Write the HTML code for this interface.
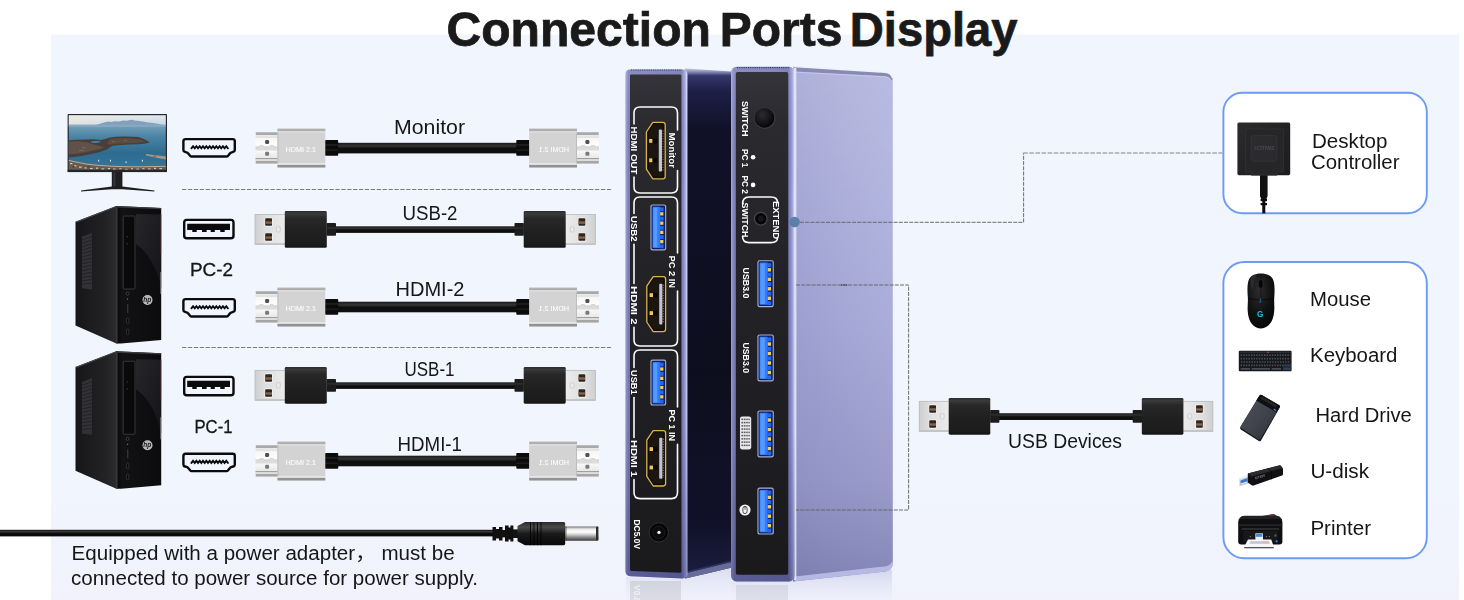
<!DOCTYPE html>
<html lang="en">
<head>
<meta charset="utf-8">
<title>Connection Ports Display</title>
<style>
  html, body { margin: 0; padding: 0; background: #ffffff; }
  body { width: 1464px; height: 600px; overflow: hidden; position: relative; }
  svg { position: absolute; left: 0; top: 0; display: block; }
  text { font-family: "Liberation Sans", "Noto Sans CJK SC", sans-serif; }
  .lbl { font-size: 19.6px; fill: #161616; }
  .tiny { font-size: 7.4px; fill: #ffffff; font-weight: normal; stroke:#fff; stroke-width:0.12px; }
  .port { fill: #ffffff; font-weight: bold; }
</style>
</head>
<body>
<svg width="1464" height="600" viewBox="0 0 1464 600">
<defs>
  <!-- gradients -->
  <linearGradient id="gPanel" x1="0" y1="0" x2="0" y2="1">
    <stop offset="0" stop-color="#f1f5fd"/>
    <stop offset="0.8" stop-color="#f1f5fd"/>
    <stop offset="1" stop-color="#f1f2fc"/>
  </linearGradient>
  <linearGradient id="gSilverV" x1="0" y1="0" x2="0" y2="1">
    <stop offset="0" stop-color="#e9e9e9"/>
    <stop offset="0.08" stop-color="#c9c9c9"/>
    <stop offset="0.2" stop-color="#d6d6d6"/>
    <stop offset="0.8" stop-color="#cfcfcf"/>
    <stop offset="0.93" stop-color="#b9b9b9"/>
    <stop offset="1" stop-color="#e2e2e2"/>
  </linearGradient>
  <linearGradient id="gTipV" x1="0" y1="0" x2="0" y2="1">
    <stop offset="0" stop-color="#bdbdbd"/>
    <stop offset="0.12" stop-color="#f4f4f4"/>
    <stop offset="0.5" stop-color="#ffffff"/>
    <stop offset="0.85" stop-color="#e6e6e6"/>
    <stop offset="1" stop-color="#b5b5b5"/>
  </linearGradient>
  <linearGradient id="gBlackV" x1="0" y1="0" x2="0" y2="1">
    <stop offset="0" stop-color="#2a2a2a"/>
    <stop offset="0.07" stop-color="#3a3a3a"/>
    <stop offset="0.2" stop-color="#282828"/>
    <stop offset="0.55" stop-color="#202020"/>
    <stop offset="0.9" stop-color="#1c1c1c"/>
    <stop offset="1" stop-color="#141414"/>
  </linearGradient>
  <linearGradient id="gUsbMetal" x1="0" y1="0" x2="1" y2="0">
    <stop offset="0" stop-color="#cfcfcf"/>
    <stop offset="0.3" stop-color="#dddddd"/>
    <stop offset="1" stop-color="#ececec"/>
  </linearGradient>
  <linearGradient id="gCable" x1="0" y1="0" x2="0" y2="1">
    <stop offset="0" stop-color="#1a1a1a"/>
    <stop offset="0.3" stop-color="#343434"/>
    <stop offset="0.55" stop-color="#0d0d0d"/>
    <stop offset="1" stop-color="#111111"/>
  </linearGradient>

  <!-- HDMI plug pointing left; origin = tip left edge, vertical centre -->
  <g id="hdmiPlug">
    <rect x="69.5" y="-8" width="13.2" height="15.8" rx="0.8" fill="#0b0b0b"/>
    <rect x="69.5" y="-3.6" width="13.2" height="1.1" fill="#2a2a2a"/>
    <rect x="69.5" y="1.6" width="13.2" height="1.1" fill="#242424"/>
    <!-- tip -->
    <rect x="0" y="-15.6" width="23" height="31" fill="url(#gTipV)"/>
    <rect x="0.6" y="-15.6" width="22.4" height="3" fill="#a9a9a9"/>
    <rect x="0.6" y="-12.6" width="22.4" height="1.1" fill="#fbfbfb"/>
    <rect x="0" y="-11.4" width="23" height="0.8" fill="#c9c9c9"/>
    <rect x="0" y="10.2" width="23" height="1" fill="#8e8e8e"/>
    <rect x="0.6" y="11.2" width="22.4" height="1.8" fill="#dedede"/>
    <rect x="0.6" y="13" width="22.4" height="2.4" fill="#a6a6a6"/>
    <path d="M0 -1.2 H3.4 L4.4 -2.4 H7.6 L8.6 -1.2 H13.6 L14.6 -2.4 H17.6 L18.6 -1.2 H23 V2.6 H0 Z" fill="#dcdcdc"/>
    <path d="M0 -1.2 H3.4 L4.4 -2.4 H7.6 L8.6 -1.2 H13.6 L14.6 -2.4 H17.6 L18.6 -1.2 H23" fill="none" stroke="#bdbdbd" stroke-width="0.5"/>
    <rect x="9.6" y="-8" width="4" height="4" rx="1.3" fill="#4f4f4f"/>
    <rect x="9.6" y="3.7" width="4" height="4" rx="1.3" fill="#7a7a7a"/>
    <!-- body -->
    <rect x="22" y="-19.8" width="47.8" height="39.6" rx="0.8" fill="#d3d3d3"/>
    <rect x="22" y="-19.8" width="47.8" height="0.9" fill="#dadada"/>
    <rect x="22" y="-18.9" width="47.8" height="2.3" fill="#adadad"/>
    <rect x="22" y="-16.6" width="47.8" height="1" fill="#e9e9e9"/>
    <rect x="22" y="15.4" width="47.8" height="1.4" fill="#f4f4f4"/>
    <rect x="22" y="16.8" width="47.8" height="2.6" fill="#929292"/>
    <rect x="22" y="-15.6" width="0.9" height="31" fill="#bcbcbc"/>
  </g>

  <!-- USB plug pointing left; origin = metal left edge, vertical centre -->
  <g id="usbPlug">
    <rect x="71.6" y="-6.6" width="9.4" height="12.8" rx="0.8" fill="#1c1c1c"/>
    <rect x="71.6" y="-2.2" width="9.4" height="1.2" fill="#333333"/>
    <rect x="0" y="-15.2" width="31" height="30.2" fill="url(#gUsbMetal)"/>
    <rect x="0" y="-15.2" width="31" height="30.2" fill="none" stroke="#b4b4b4" stroke-width="0.7"/>
    <rect x="0.4" y="13.6" width="30" height="1.2" fill="#c2c2c2"/>
    <rect x="9.6" y="-11.9" width="8" height="8.8" rx="1" fill="#f6f6f6"/>
    <rect x="9.6" y="3.1" width="8" height="8.8" rx="1" fill="#f6f6f6"/>
    <rect x="10.2" y="-11.3" width="6.8" height="7.5" rx="0.8" fill="#2b2623"/>
    <rect x="10.2" y="3.7" width="6.8" height="7.5" rx="0.8" fill="#2b2623"/>
    <rect x="10.6" y="-8.2" width="6.4" height="2.4" fill="#8a6444"/>
    <rect x="10.6" y="6.8" width="6.4" height="2.4" fill="#8a6444"/>
    <rect x="21.4" y="-2.8" width="3.8" height="5.2" rx="1" fill="#ececec" stroke="#bcbcbc" stroke-width="0.6"/>
    <rect x="29.8" y="-18.6" width="42" height="36.8" rx="1.4" fill="url(#gBlackV)"/>
  </g>

  <!-- HDMI port outline icon; origin = left, centre -->
  <g id="hdmiIcon" fill="none" stroke="#0b0b0b" stroke-linejoin="round" stroke-linecap="round">
    <path d="M3.6 -8.9 H50.6 Q52.8 -8.9 52.8 -6.7 V1.9 Q52.8 3.5 51.2 3.9 L49.8 4.3 Q48.7 4.6 48 5.4 L45.9 7.9 Q45.4 8.5 44.6 8.5 H9.6 Q8.8 8.5 8.3 7.9 L6.2 5.4 Q5.5 4.6 4.4 4.3 L3 3.9 Q1.4 3.5 1.4 1.9 V-6.7 Q1.4 -8.9 3.6 -8.9 Z" stroke-width="2.4"/>
    <path d="M9.4 0.3 l1.66 -2.1 l1.66 2.1 l1.66 -2.1 l1.66 2.1 l1.66 -2.1 l1.66 2.1 l1.66 -2.1 l1.66 2.1 l1.66 -2.1 l1.66 2.1 l1.66 -2.1 l1.66 2.1 l1.66 -2.1 l1.66 2.1 l1.66 -2.1 l1.66 2.1 l1.66 -2.1 l1.66 2.1 l1.66 -2.1 l1.66 2.1 l1.66 -2.1 l1.66 2.1" stroke-width="1.9" stroke-linejoin="miter"/>
  </g>

  <!-- USB-A port icon; origin = left, centre -->
  <g id="usbIcon">
    <rect x="2.2" y="-9.1" width="49.3" height="18.4" rx="2.6" fill="none" stroke="#0b0b0b" stroke-width="2.4"/>
    <path d="M5.2 -5.3 H48 V0.9 H42.7 V3.1 H38.3 V0.9 H32.8 V3.1 H28.7 V0.9 H24.6 V3.1 H20 V0.9 H14.7 V3.1 H10.3 V0.9 H5.2 Z" fill="#0b0b0b"/>
  </g>
</defs>

<!-- ============ background ============ -->
<rect x="0" y="0" width="1464" height="600" fill="#ffffff"/>
<rect x="51" y="34.5" width="1408" height="566" fill="url(#gPanel)"/>

<!-- ============ title ============ -->
<g font-size="48.2" font-weight="bold" fill="#1a1a1a" stroke="#1a1a1a" stroke-width="0.75">
  <text x="446.4" y="45.5" textLength="264.6" lengthAdjust="spacingAndGlyphs">Connection</text>
  <text x="719.8" y="45.5" textLength="122.6" lengthAdjust="spacingAndGlyphs">Ports</text>
  <text x="849.8" y="45.5" textLength="167.8" lengthAdjust="spacingAndGlyphs">Display</text>
</g>

<!-- ============ separators ============ -->
<g stroke="#7a7a7a" stroke-width="1" stroke-dasharray="4.3 1.6" fill="none">
  <path d="M182 189.5 H612"/>
  <path d="M182 347.5 H612"/>
</g>

<!-- ============ cable rows ============ -->
<!-- row 1 : monitor HDMI -->
<g id="row1">
  <rect x="336" y="142.8" width="182" height="10.6" fill="url(#gCable)"/>
  <use href="#hdmiPlug" transform="translate(255.5 148)"/>
  <use href="#hdmiPlug" transform="translate(599 148) scale(-1 1)"/>
  <use href="#hdmiIcon" transform="translate(182 148)"/>
</g>
<!-- row 2 : USB-2 -->
<g id="row2">
  <rect x="334" y="226.3" width="182" height="6.6" fill="url(#gCable)"/>
  <use href="#usbPlug" transform="translate(255 229.6)"/>
  <use href="#usbPlug" transform="translate(595.5 229.6) scale(-1 1)"/>
  <use href="#usbIcon" transform="translate(182 229)"/>
</g>
<!-- row 3 : HDMI-2 -->
<g id="row3">
  <rect x="336" y="301.7" width="182" height="10.6" fill="url(#gCable)"/>
  <use href="#hdmiPlug" transform="translate(255.5 307)"/>
  <use href="#hdmiPlug" transform="translate(599 307) scale(-1 1)"/>
  <use href="#hdmiIcon" transform="translate(182 308)"/>
</g>
<!-- row 4 : USB-1 -->
<g id="row4">
  <rect x="334" y="382.3" width="182" height="6.6" fill="url(#gCable)"/>
  <use href="#usbPlug" transform="translate(255 385.5)"/>
  <use href="#usbPlug" transform="translate(595.5 385.5) scale(-1 1)"/>
  <use href="#usbIcon" transform="translate(182 386)"/>
</g>
<!-- row 5 : HDMI-1 -->
<g id="row5">
  <rect x="336" y="455.7" width="182" height="10.6" fill="url(#gCable)"/>
  <use href="#hdmiPlug" transform="translate(255.5 461)"/>
  <use href="#hdmiPlug" transform="translate(599 461) scale(-1 1)"/>
  <use href="#hdmiIcon" transform="translate(182 462.6)"/>
</g>

<!-- plug engraving text -->
<g class="tiny" opacity="0.92">
  <text x="285.5" y="151.7" textLength="30.4" lengthAdjust="spacingAndGlyphs">HDMI 2.1</text>
  <text x="285.5" y="310.7" textLength="30.4" lengthAdjust="spacingAndGlyphs">HDMI 2.1</text>
  <text x="285.5" y="464.7" textLength="30.4" lengthAdjust="spacingAndGlyphs">HDMI 2.1</text>
  <text transform="translate(569 151.7) scale(-1 1)" textLength="30.4" lengthAdjust="spacingAndGlyphs">HDMI 2.1</text>
  <text transform="translate(569 310.7) scale(-1 1)" textLength="30.4" lengthAdjust="spacingAndGlyphs">HDMI 2.1</text>
  <text transform="translate(569 464.7) scale(-1 1)" textLength="30.4" lengthAdjust="spacingAndGlyphs">HDMI 2.1</text>
</g>

<!-- row labels -->
<g class="lbl">
  <text x="394" y="134.4" textLength="71" lengthAdjust="spacingAndGlyphs">Monitor</text>
  <text x="402.5" y="219.6" textLength="55" lengthAdjust="spacingAndGlyphs">USB-2</text>
  <text x="395.5" y="295.8" textLength="69" lengthAdjust="spacingAndGlyphs">HDMI-2</text>
  <text x="404.5" y="375.8" textLength="50" lengthAdjust="spacingAndGlyphs">USB-1</text>
  <text x="397.5" y="451.2" textLength="64.5" lengthAdjust="spacingAndGlyphs">HDMI-1</text>
</g>


<!-- ============ monitor ============ -->
<defs>
  <linearGradient id="gSky" x1="0" y1="0" x2="0" y2="1">
    <stop offset="0" stop-color="#e4ebee"/>
    <stop offset="1" stop-color="#c3d6e4"/>
  </linearGradient>
  <linearGradient id="gSea" x1="0" y1="0" x2="0" y2="1">
    <stop offset="0" stop-color="#7aa1ba"/>
    <stop offset="0.25" stop-color="#4a84a7"/>
    <stop offset="0.6" stop-color="#2d6c90"/>
    <stop offset="1" stop-color="#37789b"/>
  </linearGradient>
  <linearGradient id="gSkyWarm" x1="0" y1="0" x2="1" y2="0">
    <stop offset="0" stop-color="#f0e9df" stop-opacity="0.7"/>
    <stop offset="0.6" stop-color="#f0e9df" stop-opacity="0.15"/>
    <stop offset="1" stop-color="#c9d8e6" stop-opacity="0.3"/>
  </linearGradient>
  <clipPath id="cpScreen"><rect x="68.8" y="115.2" width="97" height="54.6"/></clipPath>
</defs>
<g id="monitor">
  <rect x="111.8" y="170" width="10.6" height="18" fill="#1f1f22"/>
  <rect x="113.4" y="170" width="2" height="18" fill="#34343a"/>
  <path d="M81 190.4 L111.8 186.6 H122.4 L154.4 190.4 L154.4 191.6 L122.4 189.2 H111.8 L81 191.6 Z" fill="#1d1d20"/>
  <rect x="67.6" y="114.1" width="99.4" height="58" rx="0.8" fill="#26262a"/>
  <g clip-path="url(#cpScreen)">
    <rect x="68" y="115" width="99" height="11" fill="url(#gSky)"/>
    <rect x="68" y="115" width="99" height="10" fill="url(#gSkyWarm)"/>
    <rect x="68" y="124.8" width="99" height="47" fill="url(#gSea)"/>
    <!-- distant island on horizon -->
    <path d="M96 125 L100 123.8 L104 122.6 L108 121.6 L111 121.9 L115 121.2 L119 121.4 L123 120.6 L127 120.8 L130 120 L132 119.7 L135 120.6 L139 121 L143 121.6 L148 122.4 L153 123 L158 123.8 L162.8 125 Z" fill="#829fbc"/>
    <path d="M68 124.6 H167 V127 H68 Z" fill="#8fb0c8" opacity="0.55"/>
    <!-- main headland + peninsula -->
    <path d="M68 140.2 L76 139.8 L86.6 139.5 L93 139.2 L101 139.9 L105 139 L109 137.8 L115.6 136.8 L124 136.6 L132 136.7 L138.4 137 L144 139 L149.8 142.2 L146 143.4 L139 144.2 L130 144.6 L121 145 L113 145.8 L109.4 147.6 L107.4 149.2 L103 151 L97 152.8 L89 154.6 L81.5 156 L74 157 L68 157.6 Z" fill="#493f3a"/>
    <path d="M68 141.6 L78 141.2 L88 142.4 L92 144 L98 145.4 L104 147 L100 149 L92 150.8 L84 152.4 L76 153.8 L68 154.6 Z" fill="#66584d" opacity="0.8"/>
    <path d="M110 139.2 L118 138.2 L130 138.2 L140 139.6 L145.6 141.8 L138 142.8 L126 143.2 L116 143.8 L110.6 144.8 L107 143.4 Z" fill="#5d5047" opacity="0.85"/>
    <path d="M91.3 141.4 L96 141 L101.2 141.4 L99 142.6 L94 143 L91 142.4 Z" fill="#4c86aa"/>
    <g fill="#8a7a6c" opacity="0.7"><rect x="79" y="150.2" width="5" height="0.9"/><rect x="82" y="147.4" width="3.6" height="0.8"/><rect x="112" y="141" width="3" height="0.8"/><rect x="124" y="140.2" width="2.6" height="0.8"/></g>
    <!-- right pier -->
    <path d="M145.6 154 L152 154.8 L160 155.8 L167 156.6 V159.6 L160 158.4 L152 156.8 L146 155.4 Z" fill="#a79785"/>
    <rect x="153.4" y="155.6" width="2.6" height="1" fill="#9a4a3c"/>
    <!-- foreground town -->
    <path d="M68 159.8 L76 161.6 L86 163.4 L97 164.7 L112 165.8 L128 166.3 L144 166.2 L158 166 L167 165.8 V172 H68 Z" fill="#6b5c50"/>
    <path d="M68 159.8 L76 161.6 L86 163.4 L97 164.7 L112 165.8 L128 166.3 L144 166.2 L158 166 L167 165.8 V166.8 L158 167 L144 167.2 L128 167.3 L112 166.8 L97 165.7 L86 164.4 L76 162.6 L68 160.8 Z" fill="#cdbba4" opacity="0.85"/>
    <g fill="#e6ded2" opacity="0.85">
      <rect x="70" y="163" width="2.4" height="1.2"/><rect x="74.4" y="165.2" width="2" height="1.2"/><rect x="79" y="166.6" width="2.6" height="1.2"/><rect x="84.6" y="167.4" width="2" height="1.1"/>
      <rect x="90" y="168" width="2.6" height="1.2"/><rect x="96" y="167.6" width="2" height="1.2"/><rect x="101.4" y="168.4" width="2.8" height="1.2"/><rect x="108" y="168" width="2" height="1.2"/>
      <rect x="113" y="168.6" width="2.6" height="1.2"/><rect x="119.4" y="168.2" width="2" height="1.2"/><rect x="125" y="168.8" width="2.6" height="1.1"/><rect x="131" y="168.2" width="2" height="1.2"/>
      <rect x="136.4" y="168.6" width="2.6" height="1.2"/><rect x="142.4" y="168.2" width="2" height="1.2"/><rect x="148" y="168.4" width="2.6" height="1.2"/><rect x="154" y="167.8" width="2" height="1.2"/><rect x="159.4" y="168" width="2.6" height="1.2"/>
    </g>
    <g fill="#3a322c" opacity="0.8">
      <rect x="72.6" y="166" width="1.6" height="1.4"/><rect x="87.4" y="166.2" width="2" height="1.2"/><rect x="99" y="169.4" width="2" height="1.2"/><rect x="111" y="169.6" width="1.8" height="1.2"/><rect x="122.4" y="169.6" width="2" height="1.2"/><rect x="134" y="169.8" width="1.8" height="1"/><rect x="146" y="169.6" width="2" height="1.2"/><rect x="157" y="169.4" width="1.8" height="1.2"/>
    </g>
    <g fill="#eef2f5"><rect x="98.2" y="159.8" width="1" height="1.7"/><rect x="110" y="159.8" width="1" height="1.7"/><rect x="125.6" y="161.4" width="1" height="1.7"/><rect x="141.9" y="159.8" width="1" height="1.7"/></g>
  </g>
  <rect x="67.6" y="169.8" width="99.4" height="2.3" fill="#26262a"/>
</g>

<!-- ============ PC tower (shared shape) ============ -->
<defs>
  <linearGradient id="gPcSide" x1="0" y1="0" x2="1" y2="0">
    <stop offset="0" stop-color="#161618"/>
    <stop offset="0.7" stop-color="#222225"/>
    <stop offset="1" stop-color="#2b2b2e"/>
  </linearGradient>
  <linearGradient id="gPcFront" x1="0" y1="0" x2="1" y2="0">
    <stop offset="0" stop-color="#050506"/>
    <stop offset="0.12" stop-color="#121214"/>
    <stop offset="1" stop-color="#0c0c0e"/>
  </linearGradient>
  <linearGradient id="gPcGloss" x1="0" y1="0" x2="1" y2="1">
    <stop offset="0" stop-color="#2a2a2f"/>
    <stop offset="1" stop-color="#15151a"/>
  </linearGradient>
  <g id="pcTower">
    <!-- side -->
    <path d="M75.5 221.8 L116.4 206 V343.6 L75.5 325.4 Z" fill="url(#gPcSide)"/>
    <path d="M75.5 221.8 L116.4 206 L118 206.2 L77 222.6 Z" fill="#47474c"/>
    <!-- vent -->
    <path d="M82 236.8 L92 232.8 V289.4 L82 288.2 Z" fill="#323236"/>
    <g stroke="#1a1a1c" stroke-width="0.6">
      <path d="M82 240 L92 236.4 M82 243.4 L92 240 M82 246.8 L92 243.6 M82 250.2 L92 247.2 M82 253.6 L92 250.8 M82 257 L92 254.4 M82 260.4 L92 258 M82 263.8 L92 261.6 M82 267.2 L92 265.2 M82 270.6 L92 268.8 M82 274 L92 272.4 M82 277.4 L92 276 M82 280.8 L92 279.6 M82 284.2 L92 283.2"/>
    </g>
    <!-- front -->
    <path d="M116.4 206 L161.2 208 V340 L121 343.6 H116.4 Z" fill="url(#gPcFront)"/>
    <path d="M136 214 L161.2 214.6 V288 C157 268 148 252 136 244 Z" fill="url(#gPcGloss)" opacity="0.85"/>
    <path d="M116.4 206 L161.2 208 V209.2 L116.4 207.4 Z" fill="#3b3b40"/>
    <rect x="116.4" y="206" width="1.3" height="137.6" fill="#303034"/>
    <!-- optical drive -->
    <rect x="123.2" y="216" width="11.8" height="73" rx="0.8" fill="#0a0a0b" stroke="#3c3c40" stroke-width="0.9"/>
    <rect x="126.8" y="236" width="0.8" height="1.4" fill="#4a4a4e"/>
    <rect x="126.8" y="243" width="0.8" height="1.4" fill="#4a4a4e"/>
    <!-- small ports -->
    <circle cx="127.6" cy="293.6" r="1.5" fill="#050505" stroke="#55555a" stroke-width="0.7"/>
    <rect x="126.9" y="298.4" width="1.2" height="1.4" fill="#6a6a6e"/>
    <rect x="127" y="304" width="1.4" height="9" fill="#343438"/>
    <rect x="126.6" y="318" width="2.2" height="5.4" rx="0.6" fill="#050505" stroke="#4a4a50" stroke-width="0.6"/>
    <rect x="126.6" y="329" width="2.2" height="5.4" rx="0.6" fill="#050505" stroke="#4a4a50" stroke-width="0.6"/>
    <!-- right edge reflection -->
    <rect x="160.4" y="272" width="0.9" height="22" fill="#b9b9c2" opacity="0.75"/>
    <rect x="160.4" y="214" width="0.9" height="40" fill="#6b3a36" opacity="0.55"/>
    <!-- hp badge -->
    <circle cx="147.5" cy="300" r="5" fill="#c2c2c6"/>
    <circle cx="147.5" cy="300" r="4.2" fill="#b4b4b8"/>
  </g>
</defs>
<use href="#pcTower"/>
<use href="#pcTower" transform="translate(0 145.25)"/>
<g font-size="6.6" font-weight="bold" font-style="italic" fill="#1b1b1e" text-anchor="middle">
  <text x="147.3" y="302.1">hp</text>
  <text x="147.3" y="447.35">hp</text>
</g>
<g class="lbl" style="font-size:18.9px" stroke="#161616" stroke-width="0.3">
  <text x="190" y="275.7" textLength="43" lengthAdjust="spacingAndGlyphs">PC-2</text>
  <text x="194.5" y="432.6" textLength="38" lengthAdjust="spacingAndGlyphs">PC-1</text>
</g>



<!-- ============ power cable ============ -->
<defs>
  <linearGradient id="gPwrCable" x1="0" y1="0" x2="0" y2="1">
    <stop offset="0" stop-color="#111111"/>
    <stop offset="0.3" stop-color="#3c3c3c"/>
    <stop offset="0.55" stop-color="#0b0b0b"/>
    <stop offset="1" stop-color="#0a0a0a"/>
  </linearGradient>
  <linearGradient id="gBarrel" x1="0" y1="0" x2="0" y2="1">
    <stop offset="0" stop-color="#2a2a2a"/>
    <stop offset="0.22" stop-color="#4a4a4a"/>
    <stop offset="0.5" stop-color="#1a1a1a"/>
    <stop offset="1" stop-color="#080808"/>
  </linearGradient>
  <linearGradient id="gPin" x1="0" y1="0" x2="0" y2="1">
    <stop offset="0" stop-color="#6f6f6f"/>
    <stop offset="0.18" stop-color="#e9e9e9"/>
    <stop offset="0.4" stop-color="#ffffff"/>
    <stop offset="0.62" stop-color="#bdbdbd"/>
    <stop offset="0.85" stop-color="#6a6a6a"/>
    <stop offset="1" stop-color="#3a3a3a"/>
  </linearGradient>
</defs>
<g id="power">
  <rect x="0" y="529.8" width="494" height="6.6" fill="url(#gPwrCable)"/>
  <!-- strain relief -->
  <path d="M492.5 527 H496 V529 H499 V527 H502.5 V540.6 H499 V538.6 H496 V540.6 H492.5 Z" fill="#101010"/>
  <rect x="502" y="530" width="4" height="7.4" fill="#121212"/>
  <path d="M505 525.6 H508.6 V527.6 H510.4 V525.6 H513.4 V541.6 H510.4 V539.6 H508.6 V541.6 H505 Z" fill="#101010"/>
  <rect x="513" y="529.4" width="5" height="8.6" fill="#131313"/>
  <!-- body -->
  <path d="M517.5 526 L525 522 H563.6 Q565.2 522 565.2 523.6 V543.6 Q565.2 545.3 563.6 545.3 H525 L517.5 541.2 Z" fill="url(#gBarrel)"/>
  <g stroke="#000000" stroke-width="0.9" opacity="0.9"><path d="M530.5 522 V545.3 M534 522 V545.3 M537.5 522 V545.3 M541 522 V545.3"/></g>
  <g stroke="#555555" stroke-width="0.5" opacity="0.8"><path d="M531.6 522.6 V531 M535.1 522.6 V531 M538.6 522.6 V531"/></g>
  <!-- pin -->
  <rect x="565" y="526.4" width="33.4" height="14.4" rx="1.2" fill="url(#gPin)"/>
  <rect x="596" y="526.6" width="2.4" height="14" rx="1" fill="#2e2e2e"/>
  <rect x="565" y="526.4" width="1.6" height="14.4" fill="#3a3a3a" opacity="0.55"/>
</g>
<g class="lbl" font-size="19.4">
  <text x="71.6" y="559.8" textLength="383" lengthAdjust="spacingAndGlyphs">Equipped with a power adapter， must be</text>
  <text x="71" y="584.8" textLength="407" lengthAdjust="spacingAndGlyphs">connected to power source for power supply.</text>
</g>



<!-- ============ KVM device ============ -->
<defs>
  <linearGradient id="gFrame" x1="0" y1="0" x2="1" y2="0">
    <stop offset="0" stop-color="#a3a7d8"/>
    <stop offset="0.05" stop-color="#7c80ba"/>
    <stop offset="0.9" stop-color="#7276b0"/>
    <stop offset="0.96" stop-color="#9da1dc"/>
    <stop offset="1" stop-color="#e8eaff"/>
  </linearGradient>
  <linearGradient id="gFrameV" x1="0" y1="0" x2="0" y2="1">
    <stop offset="0" stop-color="#ffffff" stop-opacity="0.12"/>
    <stop offset="0.25" stop-color="#30316a" stop-opacity="0"/>
    <stop offset="0.7" stop-color="#30316a" stop-opacity="0.12"/>
    <stop offset="1" stop-color="#2a2b60" stop-opacity="0.42"/>
  </linearGradient>
  <linearGradient id="gNavy" x1="0" y1="0" x2="0" y2="1">
    <stop offset="0" stop-color="#c3c6de"/>
    <stop offset="0.006" stop-color="#8d90b8"/>
    <stop offset="0.014" stop-color="#34376c"/>
    <stop offset="0.045" stop-color="#1d1f46"/>
    <stop offset="0.12" stop-color="#101127"/>
    <stop offset="0.6" stop-color="#0d0e1d"/>
    <stop offset="0.9" stop-color="#11122a"/>
    <stop offset="1" stop-color="#1c1e40"/>
  </linearGradient>
  <linearGradient id="gSideH" x1="0" y1="0" x2="1" y2="0">
    <stop offset="0" stop-color="#a0a3d2"/>
    <stop offset="0.5" stop-color="#a8abd8"/>
    <stop offset="1" stop-color="#aeb1dc"/>
  </linearGradient>
  <linearGradient id="gSideV" x1="0" y1="0" x2="0" y2="1">
    <stop offset="0" stop-color="#ffffff" stop-opacity="0.14"/>
    <stop offset="0.25" stop-color="#ffffff" stop-opacity="0.05"/>
    <stop offset="0.5" stop-color="#4a4d84" stop-opacity="0.04"/>
    <stop offset="0.8" stop-color="#4a4d84" stop-opacity="0.2"/>
    <stop offset="1" stop-color="#40437a" stop-opacity="0.38"/>
  </linearGradient>
  <linearGradient id="gRefl" x1="0" y1="0" x2="0" y2="1">
    <stop offset="0" stop-color="#9a9ed0" stop-opacity="0.34"/>
    <stop offset="1" stop-color="#c9ccee" stop-opacity="0.04"/>
  </linearGradient>
  <linearGradient id="gFace" x1="0" y1="0" x2="0" y2="1">
    <stop offset="0" stop-color="#34343a"/>
    <stop offset="0.1" stop-color="#2a2a2f"/>
    <stop offset="0.4" stop-color="#232327"/>
    <stop offset="1" stop-color="#1a1a1d"/>
  </linearGradient>
  <radialGradient id="gBtn" cx="0.4" cy="0.35" r="0.7">
    <stop offset="0" stop-color="#2c2c30"/>
    <stop offset="0.7" stop-color="#101012"/>
    <stop offset="1" stop-color="#000000"/>
  </radialGradient>
</defs>
<g id="kvm">
  <!-- floor reflections -->
  <path d="M626 577 L687 579 L731 568 V600 H626 Z" fill="url(#gRefl)" opacity="0.75"/>
  <path d="M731 581 H794.5 L892 570 V600 H731 Z" fill="url(#gRefl)"/>
  <rect x="630" y="581" width="51" height="19" fill="#1a1a22" opacity="0.10"/>
  <rect x="736" y="585" width="52" height="15" fill="#1a1a22" opacity="0.08"/>

  <!-- rear unit : navy side -->
  <path d="M685 68.6 L732 71.4 V567.6 L685 578.6 Z" fill="url(#gNavy)"/>
  <path d="M686 573 L732 561.8 V567.6 L686 578.6 Z" fill="#6e72a0" opacity="0.92"/>
  <path d="M686 571.4 L732 560.2 V562 L686 573.2 Z" fill="#34376a" opacity="0.8"/>
  <!-- rear unit : frame + face -->
  <path d="M630.6 69.4 H682.4 Q687.4 69.4 687.4 74.4 V573.8 Q687.4 578.6 682.4 578.4 L630.4 576.2 Q625.4 576 625.4 571 V74.4 Q625.4 69.4 630.6 69.4 Z" fill="url(#gFrame)"/>
  <path d="M630.6 69.4 H682.4 Q687.4 69.4 687.4 74.4 V573.8 Q687.4 578.6 682.4 578.4 L630.4 576.2 Q625.4 576 625.4 571 V74.4 Q625.4 69.4 630.6 69.4 Z" fill="url(#gFrameV)"/>
  <path d="M631.4 74.4 H680 Q681.4 74.4 681.4 75.8 V571.4 Q681.4 572.8 680 572.8 L631.4 571 Q630 571 630 569.6 V75.8 Q630 74.4 631.4 74.4 Z" fill="url(#gFace)"/>
  <path d="M631 70 H682" stroke="#33356e" stroke-width="1.1" stroke-dasharray="1.1 1.1"/>

  <!-- front unit : light side -->
  <path d="M793 66.6 L885 72.4 Q892.8 73.2 892.8 81 V563 Q892.8 570.4 885.4 571.4 L793 581.4 Z" fill="url(#gSideH)"/>
  <path d="M793 66.6 L885 72.4 Q892.8 73.2 892.8 81 V563 Q892.8 570.4 885.4 571.4 L793 581.4 Z" fill="url(#gSideV)"/>
  <!-- top bevel -->
  <path d="M794 66.4 L885 72.2 Q891.6 72.8 892.6 79 L891.4 80.4 Q890.4 76.6 885 76.2 L795.6 71.6 Z" fill="#8386ac" opacity="0.9"/>
  <path d="M794 66.4 L885 72.2 Q891.4 72.8 892.6 78" fill="none" stroke="#f1f2fb" stroke-width="1.5"/>
  <path d="M796 72.2 L885 76.8 Q889.6 77.2 890.8 80.6" fill="none" stroke="#c9ccf0" stroke-width="0.9" opacity="0.9"/>
  <!-- bottom bevel -->
  <path d="M795 576.4 L885 566.4 Q890.6 565.6 892.2 561 L892.8 563.6 Q892.6 570.4 885.4 571.4 L795 581.2 Z" fill="#c3c6ee" opacity="0.8"/>
  <!-- left highlight of side -->
  <rect x="794" y="68" width="2.4" height="512" fill="#e4e6fb" opacity="0.9"/>
  <!-- front unit : frame + face -->
  <rect x="731" y="66.8" width="63.8" height="514.6" rx="5.4" fill="url(#gFrame)"/>
  <rect x="731" y="66.8" width="63.8" height="514.6" rx="5.4" fill="url(#gFrameV)"/>
  <rect x="735.8" y="72" width="52.4" height="502.8" rx="1.8" fill="url(#gFace)"/>
  <path d="M737 67.6 H789" stroke="#33356e" stroke-width="1.1" stroke-dasharray="1.1 1.1"/>
  <!-- group frames (broken where labels sit) -->
  <g fill="none" stroke="#fbfbfb" stroke-width="1.6" stroke-linecap="round">
    <path d="M634 124 V113 Q634 107 640 107 H671.5 Q677.5 107 677.5 113 V130"/>
    <path d="M634 177 V187 Q634 193 640 193 H671.5 Q677.5 193 677.5 187 V170.6"/>
    <path d="M634 213.4 V203 Q634 197 640 197 H671.5 Q677.5 197 677.5 203 V253"/>
    <path d="M634 244.4 V283.4"/>
    <path d="M634 327.4 V340 Q634 346 640 346 H671.5 Q677.5 346 677.5 340 V291"/>
    <path d="M634 367.4 V356 Q634 350 640 350 H671.5 Q677.5 350 677.5 356 V407"/>
    <path d="M634 397.6 V437.4"/>
    <path d="M634 479.6 V492.6 Q634 498.6 640 498.6 H671.5 Q677.5 498.6 677.5 492.6 V444.4"/>
  </g>
  <g>
    <path d="M652.8 122.4 H662.8 Q665.2 122.4 665.2 124.8 V176.4 Q665.2 178.8 662.8 178.8 H652.8 L646.4 169.2 V132.0 Z" fill="#120d08" stroke="#dcb44c" stroke-width="1.3" stroke-linejoin="round"/>
    <path d="M653.6 124.8 H662.6 V176.4 H653.6 L648.6 168.6 V132.6 Z" fill="#1c1610"/>
    <rect x="658.8" y="129.6" width="3.2" height="42.0" rx="1" fill="#c2c2da"/>
    <path d="M663.0 130.4 V170.8" stroke="#c9a13e" stroke-width="0.7" stroke-dasharray="1.2 1.4"/>
    <rect x="649.2" y="139.0" width="3.4" height="3.8" fill="#ecc75a"/>
    <rect x="652.6" y="138.6" width="4.6" height="4.6" fill="#0a0705"/>
    <rect x="649.2" y="158.4" width="3.4" height="3.8" fill="#ecc75a"/>
    <rect x="652.6" y="158.0" width="4.6" height="4.6" fill="#0a0705"/>
  </g>
  <g>
    <rect x="650.4" y="204.4" width="15.8" height="46" rx="2.2" fill="#a9aecb"/>
    <rect x="651.5" y="205.5" width="13.600000000000001" height="43.8" rx="1.4" fill="#0e1f66"/>
    <rect x="652.6" y="206.8" width="7.600000000000001" height="41.2" rx="0.8" fill="#2f7bff"/>
    <rect x="653.4" y="207.6" width="3.8000000000000007" height="39.6" fill="#5fa4ff" opacity="0.8"/>
    <rect x="659.8" y="207.4" width="3.8" height="3.9" fill="#2568f0"/>
    <rect x="659.8" y="216.7" width="3.8" height="3.9" fill="#2568f0"/>
    <rect x="659.8" y="225.9" width="3.8" height="3.9" fill="#2568f0"/>
    <rect x="659.8" y="235.2" width="3.8" height="3.9" fill="#2568f0"/>
    <rect x="659.8" y="244.4" width="3.8" height="3.9" fill="#2568f0"/>
    <rect x="660.2" y="212.2" width="3.2" height="3.3" fill="#f0d04e"/>
    <rect x="660.2" y="221.5" width="3.2" height="3.3" fill="#f0d04e"/>
    <rect x="660.2" y="230.7" width="3.2" height="3.3" fill="#f0d04e"/>
    <rect x="660.2" y="240.0" width="3.2" height="3.3" fill="#f0d04e"/>
  </g>
  <g>
    <path d="M653.2 276.6 H663.2 Q665.6 276.6 665.6 279.0 V329.2 Q665.6 331.6 663.2 331.6 H653.2 L646.8 322.0 V286.2 Z" fill="#120d08" stroke="#dcb44c" stroke-width="1.3" stroke-linejoin="round"/>
    <path d="M654.0 279.0 H663.0 V329.2 H654.0 L649.0 321.4 V286.8 Z" fill="#1c1610"/>
    <rect x="659.2" y="283.8" width="3.2" height="40.6" rx="1" fill="#c2c2da"/>
    <path d="M663.4 284.6 V323.6" stroke="#c9a13e" stroke-width="0.7" stroke-dasharray="1.2 1.4"/>
    <rect x="649.6" y="293.2" width="3.4" height="3.8" fill="#ecc75a"/>
    <rect x="653.0" y="292.8" width="4.6" height="4.6" fill="#0a0705"/>
    <rect x="649.6" y="311.2" width="3.4" height="3.8" fill="#ecc75a"/>
    <rect x="653.0" y="310.8" width="4.6" height="4.6" fill="#0a0705"/>
  </g>
  <g>
    <rect x="650.4" y="359.6" width="15.8" height="46" rx="2.2" fill="#a9aecb"/>
    <rect x="651.5" y="360.70000000000005" width="13.600000000000001" height="43.8" rx="1.4" fill="#0e1f66"/>
    <rect x="652.6" y="362.0" width="7.600000000000001" height="41.2" rx="0.8" fill="#2f7bff"/>
    <rect x="653.4" y="362.8" width="3.8000000000000007" height="39.6" fill="#5fa4ff" opacity="0.8"/>
    <rect x="659.8" y="362.6" width="3.8" height="3.9" fill="#2568f0"/>
    <rect x="659.8" y="371.9" width="3.8" height="3.9" fill="#2568f0"/>
    <rect x="659.8" y="381.1" width="3.8" height="3.9" fill="#2568f0"/>
    <rect x="659.8" y="390.4" width="3.8" height="3.9" fill="#2568f0"/>
    <rect x="659.8" y="399.6" width="3.8" height="3.9" fill="#2568f0"/>
    <rect x="660.2" y="367.4" width="3.2" height="3.3" fill="#f0d04e"/>
    <rect x="660.2" y="376.7" width="3.2" height="3.3" fill="#f0d04e"/>
    <rect x="660.2" y="385.9" width="3.2" height="3.3" fill="#f0d04e"/>
    <rect x="660.2" y="395.2" width="3.2" height="3.3" fill="#f0d04e"/>
  </g>
  <g>
    <path d="M653.2 430.6 H663.2 Q665.6 430.6 665.6 433.0 V483.6 Q665.6 486.0 663.2 486.0 H653.2 L646.8 476.4 V440.2 Z" fill="#120d08" stroke="#dcb44c" stroke-width="1.3" stroke-linejoin="round"/>
    <path d="M654.0 433.0 H663.0 V483.6 H654.0 L649.0 475.8 V440.8 Z" fill="#1c1610"/>
    <rect x="659.2" y="437.8" width="3.2" height="41.0" rx="1" fill="#c2c2da"/>
    <path d="M663.4 438.6 V478.0" stroke="#c9a13e" stroke-width="0.7" stroke-dasharray="1.2 1.4"/>
    <rect x="649.6" y="447.2" width="3.4" height="3.8" fill="#ecc75a"/>
    <rect x="653.0" y="446.8" width="4.6" height="4.6" fill="#0a0705"/>
    <rect x="649.6" y="465.6" width="3.4" height="3.8" fill="#ecc75a"/>
    <rect x="653.0" y="465.2" width="4.6" height="4.6" fill="#0a0705"/>
  </g>
  <circle cx="658.8" cy="532.4" r="9.6" fill="#050505" stroke="#303034" stroke-width="1"/>
  <circle cx="658.8" cy="532.4" r="6.2" fill="#0b0b0c" stroke="#1f1f22" stroke-width="0.8"/>
  <circle cx="659" cy="532.4" r="1.7" fill="#f2f2f2"/>
  <text class="port" font-size="9.5" transform="translate(634.4 126.5) rotate(90)" textLength="48.0" lengthAdjust="spacingAndGlyphs" dy="3.40">HDMI OUT</text>
  <text class="port" font-size="9.5" transform="translate(672.2 132.5) rotate(90)" textLength="35.5" lengthAdjust="spacingAndGlyphs" dy="3.40">Monitor</text>
  <text class="port" font-size="9.5" transform="translate(634.4 216) rotate(90)" textLength="25.5" lengthAdjust="spacingAndGlyphs" dy="3.40">USB2</text>
  <text class="port" font-size="9.5" transform="translate(672.2 255.5) rotate(90)" textLength="32.5" lengthAdjust="spacingAndGlyphs" dy="3.40">PC 2 IN</text>
  <text class="port" font-size="9.5" transform="translate(634.4 286) rotate(90)" textLength="38.5" lengthAdjust="spacingAndGlyphs" dy="3.40">HDMI 2</text>
  <text class="port" font-size="9.5" transform="translate(634.4 370) rotate(90)" textLength="24.5" lengthAdjust="spacingAndGlyphs" dy="3.40">USB1</text>
  <text class="port" font-size="9.5" transform="translate(672.2 409.5) rotate(90)" textLength="31.5" lengthAdjust="spacingAndGlyphs" dy="3.40">PC 1 IN</text>
  <text class="port" font-size="9.5" transform="translate(634.4 440) rotate(90)" textLength="37.0" lengthAdjust="spacingAndGlyphs" dy="3.40">HDMI 1</text>
  <text class="port" font-size="9.5" transform="translate(637.6 519.5) rotate(90)" textLength="29.5" lengthAdjust="spacingAndGlyphs" dy="3.40">DC5.0V</text>
  <!-- front unit controls -->
  <circle cx="764.8" cy="118.2" r="10.8" fill="#3a3a40"/>
  <circle cx="764.4" cy="117.8" r="9.9" fill="url(#gBtn)"/>
  <circle cx="753.1" cy="157.3" r="2.3" fill="#ffffff"/>
  <circle cx="753.1" cy="184.9" r="2.3" fill="#ffffff"/>
  <g fill="none" stroke="#fbfbfb" stroke-width="1.6" stroke-linecap="round">
    <path d="M742.6 204 Q742.6 197 749 197 H771 Q777.5 197 777.5 202.6"/>
    <path d="M742.6 236.6 Q742.6 242.6 749 242.6 H771 Q777.5 242.6 777.5 238"/>
  </g>
  <circle cx="760.8" cy="218.8" r="7" fill="#45454a"/>
  <circle cx="760.8" cy="218.8" r="5.7" fill="#050505"/>
  <circle cx="760.8" cy="218.8" r="3" fill="#15151a"/>
  <g>
    <rect x="757.4" y="260.2" width="16.4" height="47" rx="2.2" fill="#a9aecb"/>
    <rect x="758.5" y="261.3" width="14.2" height="44.8" rx="1.4" fill="#0e1f66"/>
    <rect x="759.6" y="262.59999999999997" width="8.2" height="42.2" rx="0.8" fill="#2f7bff"/>
    <rect x="760.4" y="263.4" width="4.399999999999999" height="40.6" fill="#5fa4ff" opacity="0.8"/>
    <rect x="767.4" y="263.2" width="3.8" height="4.0" fill="#2568f0"/>
    <rect x="767.4" y="272.7" width="3.8" height="4.0" fill="#2568f0"/>
    <rect x="767.4" y="282.2" width="3.8" height="4.0" fill="#2568f0"/>
    <rect x="767.4" y="291.7" width="3.8" height="4.0" fill="#2568f0"/>
    <rect x="767.4" y="301.2" width="3.8" height="4.0" fill="#2568f0"/>
    <rect x="767.8" y="268.1" width="3.2" height="3.4" fill="#f0d04e"/>
    <rect x="767.8" y="277.6" width="3.2" height="3.4" fill="#f0d04e"/>
    <rect x="767.8" y="287.1" width="3.2" height="3.4" fill="#f0d04e"/>
    <rect x="767.8" y="296.6" width="3.2" height="3.4" fill="#f0d04e"/>
  </g>
  <g>
    <rect x="757.4" y="334.4" width="16.4" height="47" rx="2.2" fill="#a9aecb"/>
    <rect x="758.5" y="335.5" width="14.2" height="44.8" rx="1.4" fill="#0e1f66"/>
    <rect x="759.6" y="336.79999999999995" width="8.2" height="42.2" rx="0.8" fill="#2f7bff"/>
    <rect x="760.4" y="337.59999999999997" width="4.399999999999999" height="40.6" fill="#5fa4ff" opacity="0.8"/>
    <rect x="767.4" y="337.4" width="3.8" height="4.0" fill="#2568f0"/>
    <rect x="767.4" y="346.9" width="3.8" height="4.0" fill="#2568f0"/>
    <rect x="767.4" y="356.4" width="3.8" height="4.0" fill="#2568f0"/>
    <rect x="767.4" y="365.9" width="3.8" height="4.0" fill="#2568f0"/>
    <rect x="767.4" y="375.4" width="3.8" height="4.0" fill="#2568f0"/>
    <rect x="767.8" y="342.3" width="3.2" height="3.4" fill="#f0d04e"/>
    <rect x="767.8" y="351.8" width="3.2" height="3.4" fill="#f0d04e"/>
    <rect x="767.8" y="361.3" width="3.2" height="3.4" fill="#f0d04e"/>
    <rect x="767.8" y="370.8" width="3.2" height="3.4" fill="#f0d04e"/>
  </g>
  <g>
    <rect x="757.4" y="410.4" width="16.4" height="47" rx="2.2" fill="#a9aecb"/>
    <rect x="758.5" y="411.5" width="14.2" height="44.8" rx="1.4" fill="#0e1f66"/>
    <rect x="759.6" y="412.79999999999995" width="8.2" height="42.2" rx="0.8" fill="#2f7bff"/>
    <rect x="760.4" y="413.59999999999997" width="4.399999999999999" height="40.6" fill="#5fa4ff" opacity="0.8"/>
    <rect x="767.4" y="413.4" width="3.8" height="4.0" fill="#2568f0"/>
    <rect x="767.4" y="422.9" width="3.8" height="4.0" fill="#2568f0"/>
    <rect x="767.4" y="432.4" width="3.8" height="4.0" fill="#2568f0"/>
    <rect x="767.4" y="441.9" width="3.8" height="4.0" fill="#2568f0"/>
    <rect x="767.4" y="451.4" width="3.8" height="4.0" fill="#2568f0"/>
    <rect x="767.8" y="418.3" width="3.2" height="3.4" fill="#f0d04e"/>
    <rect x="767.8" y="427.8" width="3.2" height="3.4" fill="#f0d04e"/>
    <rect x="767.8" y="437.3" width="3.2" height="3.4" fill="#f0d04e"/>
    <rect x="767.8" y="446.8" width="3.2" height="3.4" fill="#f0d04e"/>
  </g>
  <g>
    <rect x="757.4" y="487.6" width="16.4" height="47" rx="2.2" fill="#a9aecb"/>
    <rect x="758.5" y="488.70000000000005" width="14.2" height="44.8" rx="1.4" fill="#0e1f66"/>
    <rect x="759.6" y="490.0" width="8.2" height="42.2" rx="0.8" fill="#2f7bff"/>
    <rect x="760.4" y="490.8" width="4.399999999999999" height="40.6" fill="#5fa4ff" opacity="0.8"/>
    <rect x="767.4" y="490.6" width="3.8" height="4.0" fill="#2568f0"/>
    <rect x="767.4" y="500.1" width="3.8" height="4.0" fill="#2568f0"/>
    <rect x="767.4" y="509.6" width="3.8" height="4.0" fill="#2568f0"/>
    <rect x="767.4" y="519.1" width="3.8" height="4.0" fill="#2568f0"/>
    <rect x="767.4" y="528.6" width="3.8" height="4.0" fill="#2568f0"/>
    <rect x="767.8" y="495.6" width="3.2" height="3.4" fill="#f0d04e"/>
    <rect x="767.8" y="505.1" width="3.2" height="3.4" fill="#f0d04e"/>
    <rect x="767.8" y="514.5" width="3.2" height="3.4" fill="#f0d04e"/>
    <rect x="767.8" y="524.0" width="3.2" height="3.4" fill="#f0d04e"/>
  </g>
  <rect x="740" y="416.4" width="11.2" height="33" rx="2.2" fill="#e9e9ec"/>
  <rect x="741.4" y="418.60" width="8.4" height="1.5" fill="#55555c"/>
  <rect x="741.4" y="421.85" width="8.4" height="1.5" fill="#55555c"/>
  <rect x="741.4" y="425.10" width="8.4" height="1.5" fill="#55555c"/>
  <rect x="741.4" y="428.35" width="8.4" height="1.5" fill="#55555c"/>
  <rect x="741.4" y="431.60" width="8.4" height="1.5" fill="#55555c"/>
  <rect x="741.4" y="434.85" width="8.4" height="1.5" fill="#55555c"/>
  <rect x="741.4" y="438.10" width="8.4" height="1.5" fill="#55555c"/>
  <rect x="741.4" y="441.35" width="8.4" height="1.5" fill="#55555c"/>
  <rect x="741.4" y="444.60" width="8.4" height="1.5" fill="#55555c"/>
  <rect x="743.3" y="418" width="0.7" height="30" fill="#e9e9ec"/>
  <rect x="745.5" y="418" width="0.7" height="30" fill="#e9e9ec"/>
  <rect x="747.7" y="418" width="0.7" height="30" fill="#e9e9ec"/>
  <circle cx="745" cy="510" r="5.6" fill="#f1f1f3"/>
  <rect x="742.9" y="506.4" width="4.2" height="7.2" rx="2.1" fill="none" stroke="#2b2b30" stroke-width="0.8"/>
  <path d="M745 506.4 V509.6" stroke="#2b2b30" stroke-width="0.8"/>
  <text class="port" font-size="9.5" transform="translate(745.2 101) rotate(90)" textLength="35.5" lengthAdjust="spacingAndGlyphs" dy="3.40">SWITCH</text>
  <text class="port" font-size="9.5" transform="translate(745.2 149) rotate(90)" textLength="18.5" lengthAdjust="spacingAndGlyphs" dy="3.40">PC 1</text>
  <text class="port" font-size="9.5" transform="translate(745.2 175.5) rotate(90)" textLength="18.5" lengthAdjust="spacingAndGlyphs" dy="3.40">PC 2</text>
  <text class="port" font-size="9.3" transform="translate(745.2 202.5) rotate(90)" textLength="35.0" lengthAdjust="spacingAndGlyphs" dy="3.33">SWITCH</text>
  <text class="port" font-size="9.3" transform="translate(776.2 201) rotate(90)" textLength="38.0" lengthAdjust="spacingAndGlyphs" dy="3.33">EXTEND</text>
  <text class="port" font-size="9.3" transform="translate(746.2 267.5) rotate(90)" textLength="31.0" lengthAdjust="spacingAndGlyphs" dy="3.33">USB3.0</text>
  <text class="port" font-size="9.3" transform="translate(746.2 342.5) rotate(90)" textLength="30.5" lengthAdjust="spacingAndGlyphs" dy="3.33">USB3.0</text>
</g>

<text class="port" font-size="9.5" opacity="0.6" transform="translate(637.6 614.5) scale(1 -1) rotate(90)" textLength="29.5" lengthAdjust="spacingAndGlyphs" dy="3.4">DC5.0V</text>
<!-- ============ dashed connectors ============ -->
<g stroke="#606060" stroke-width="0.9" stroke-dasharray="4 1.2" fill="none">
  <path d="M800 222.3 H1023.6 V153"/>
  <path d="M796 285 H908.6 V510 H796"/>
</g>
<path d="M1023.2 153 H1222.4" stroke="#a9a9a9" stroke-width="1.7" stroke-dasharray="4.6 1.5" fill="none"/>
<circle cx="794.6" cy="222" r="5.2" fill="#5b7fa9"/>
<path d="M841 285 h7" stroke="#222" stroke-width="1.2" stroke-dasharray="1.4 1"/>



<!-- ============ right : boxes ============ -->
<rect x="1223.4" y="92.8" width="203.4" height="120.4" rx="19" fill="#ffffff" stroke="#6d9bf4" stroke-width="1.9"/>
<rect x="1223.4" y="262" width="203.4" height="296.2" rx="21" fill="#ffffff" stroke="#6d9bf4" stroke-width="1.9"/>

<!-- desktop controller -->
<defs>
  <linearGradient id="gCtl" x1="0" y1="0" x2="1" y2="1">
    <stop offset="0" stop-color="#2b2b2d"/>
    <stop offset="1" stop-color="#1c1c1e"/>
  </linearGradient>
</defs>
<g id="controller">
  <rect x="1262.3" y="174" width="3" height="39.4" fill="#0c0c0c"/>
  <path d="M1260 175 H1267.6 V196 L1266.4 199 H1261.2 L1260 196 Z" fill="#101010"/>
  <rect x="1260.6" y="199" width="6.4" height="2.2" fill="#0a0a0a"/>
  <rect x="1260.6" y="203" width="6.4" height="2.2" fill="#0a0a0a"/>
  <rect x="1237.4" y="122.4" width="52.8" height="52.8" rx="1.6" fill="url(#gCtl)"/>
  <path d="M1245.4 129 H1283.4 V172 H1277 V175.2 H1251.4 V172 H1245.4 Z" fill="#262628" stroke="#333336" stroke-width="0.7"/>
  <rect x="1251" y="135.4" width="25.8" height="25.8" rx="2.6" fill="#2b2b2e" stroke="#38383c" stroke-width="0.7"/>
</g>
<text transform="translate(1274.4 149.6) scale(-1 1)" font-size="4.6" fill="#4a4a4f" font-weight="bold" textLength="20" lengthAdjust="spacingAndGlyphs">SWITCH</text>
<g class="lbl">
  <text x="1312" y="148.2" textLength="75.5" lengthAdjust="spacingAndGlyphs">Desktop</text>
  <text x="1311" y="169" textLength="88.5" lengthAdjust="spacingAndGlyphs">Controller</text>
</g>

<!-- mouse -->
<defs>
  <radialGradient id="gMouse" cx="0.42" cy="0.3" r="0.75">
    <stop offset="0" stop-color="#2d2d30"/>
    <stop offset="0.55" stop-color="#131314"/>
    <stop offset="1" stop-color="#050505"/>
  </radialGradient>
</defs>
<g id="mouse">
  <path d="M1260.8 273.6 C1267 273.6 1272 275.6 1273.6 281 C1274.8 285 1274.7 292 1274.3 297 C1273.9 302 1274.6 306 1274.2 311 C1273.6 321 1268.6 328.4 1260.8 328.4 C1253 328.4 1248.2 321 1247.7 311 C1247.3 306 1248.2 302 1247.8 297 C1247.3 292 1247.2 285 1248.4 281 C1250 275.6 1254.6 273.6 1260.8 273.6 Z" fill="url(#gMouse)"/>
  <path d="M1248 298.6 Q1260.8 301.4 1274 298.6" fill="none" stroke="#000" stroke-width="0.7" opacity="0.85"/>
  <path d="M1260.8 274 V298.6" stroke="#000" stroke-width="0.6" opacity="0.7"/>
  <path d="M1250.4 279 Q1252 275.6 1257 274.8 Q1253.6 280 1252.6 290 Q1250 286 1250.4 279 Z" fill="#3a3a3e" opacity="0.55"/>
  <rect x="1258.4" y="279.4" width="4.6" height="8.8" rx="2.3" fill="#050505" stroke="#303034" stroke-width="0.6"/>
  <rect x="1259.6" y="298.6" width="1.6" height="4.2" fill="#155a86"/>
</g>
<text x="1257" y="316.8" font-size="8.2" font-weight="bold" fill="#27b8f0">G</text>

<!-- keyboard -->
<g id="keyboard">
  <rect x="1238.8" y="350.8" width="52.8" height="20.4" rx="1" fill="#17181b"/>
  <rect x="1239.6" y="351.6" width="51.2" height="1.4" fill="#2c2e35"/>
  <g stroke="#494c55" stroke-width="1.7" stroke-dasharray="1.5 1.1">
    <path d="M1240.6 355.2 H1290.4"/>
    <path d="M1240.6 358.6 H1290.4"/>
    <path d="M1241 362 H1290.4"/>
    <path d="M1240.6 365.4 H1290.4"/>
  </g>
  <path d="M1240.6 368.8 H1250 M1251.6 368.8 H1270 M1271.6 368.8 H1281 M1283.4 368.8 H1290.4" stroke="#494c55" stroke-width="1.7"/>
  <rect x="1282.6" y="364" width="8.4" height="6.4" fill="#2a3a55" opacity="0.6"/>
  <rect x="1267.4" y="351.7" width="1.4" height="1.2" fill="#d94a3a"/>
</g>

<!-- hard drive -->
<defs>
  <linearGradient id="gHdd" x1="0" y1="0" x2="1" y2="1">
    <stop offset="0" stop-color="#4e515a"/>
    <stop offset="0.5" stop-color="#41444c"/>
    <stop offset="1" stop-color="#2c2e35"/>
  </linearGradient>
</defs>
<g id="hdd">
  <path d="M1259.6 395.4 Q1260.6 394.4 1262 395.2 L1279.2 405.2 Q1280.6 406 1279.8 407.4 L1261 440.4 Q1260.2 441.8 1258.8 441 L1240.8 429.4 Q1239.6 428.6 1240.4 427.2 Z" fill="#17181c"/>
  <path d="M1259.6 395.4 Q1260.6 394.4 1262 395.2 L1279.2 405.2 Q1280.2 405.8 1279.6 407 L1260.4 438.8 Q1259.6 440 1258.4 439.2 L1241 428 Q1240 427.2 1240.6 426.2 Z" fill="url(#gHdd)"/>
  <path d="M1259.6 395.4 Q1260.6 394.4 1262 395.2 L1279.2 405.2 Q1280.2 405.8 1279.6 407 L1276.4 412.2 L1256.2 400.6 Z" fill="#0f1013"/>
  <path d="M1262 396.4 L1277 405.2 L1275.6 407.4 L1260.6 398.6 Z" fill="#2c2e35" opacity="0.7"/>
  <path d="M1274 408.6 L1276.4 410 L1275.8 411 L1273.4 409.6 Z" fill="#3f8df0"/>
</g>

<!-- u-disk -->
<g id="udisk">
  <path d="M1239.4 478.4 L1248.8 474.8 V483.4 L1239.4 486.4 Z" fill="#cfd2d8"/>
  <path d="M1239.4 478.4 L1248.8 474.8 L1249.2 476 L1240 479.6 Z" fill="#f2f3f6"/>
  <path d="M1240.6 480.6 L1247.6 478 V482.6 L1240.6 484.8 Z" fill="#3d78cc"/>
  <path d="M1240.6 483.4 L1247.6 481.2 V482.6 L1240.6 484.8 Z" fill="#e9edf4"/>
  <path d="M1247.8 473.4 L1279 465.4 Q1280.4 465.1 1281.2 466.2 L1282.6 468 Q1283 468.6 1283 469.4 V474.2 Q1283 475.2 1282 475.5 L1253.6 485.6 Q1252.6 485.9 1251.8 485.2 L1247.8 482.4 Z" fill="#101012"/>
  <path d="M1247.8 473.4 L1279 465.4 Q1280.4 465.1 1281.2 466.2 L1282.6 468 L1251.6 476.4 Z" fill="#2b2b30"/>
  <path d="M1267.6 468.6 L1271.4 471.2 V479.4" stroke="#000" stroke-width="0.6" fill="none"/>
</g>
<text transform="translate(1255.6 479.2) rotate(-15.5)" font-size="3.4" fill="#8f8f96" font-weight="bold">DT100</text>

<!-- printer -->
<g id="printer">
  <path d="M1253.6 517.6 L1273.8 514 L1277.6 516.6 L1259 519 Z" fill="#2c2c2e"/>
  <path d="M1266 515.4 L1273.8 514 L1277.6 516.6 L1270 517.6 Z" fill="#6a3a3c"/>
  <path d="M1244.4 515.8 H1276 Q1279.6 515.8 1281 518 L1282.2 520 H1238.4 L1240 517.6 Q1241.2 515.8 1244.4 515.8 Z" fill="#222224"/>
  <path d="M1238.2 522 Q1238.2 519 1241.2 519 H1279.4 Q1282.4 519 1282.4 522 V541.6 Q1282.4 544.6 1279.4 544.6 H1241.2 Q1238.2 544.6 1238.2 541.6 Z" fill="#0f0f11"/>
  <rect x="1238.2" y="524.6" width="44.2" height="0.9" fill="#38383c"/>
  <path d="M1242 528 H1278.6 L1279.4 530 H1241.2 Z" fill="#2a2a2d"/>
  <path d="M1243.4 531 H1277.4 V542 H1243.4 Z" fill="#18181b"/>
  <rect x="1255.4" y="533.4" width="7.6" height="6.6" fill="#eef3fb"/>
  <rect x="1256" y="534" width="6.4" height="2.8" fill="#3f8de0"/>
  <circle cx="1250.4" cy="536.6" r="0.7" fill="#77777d"/><circle cx="1266.4" cy="536.6" r="0.7" fill="#77777d"/><circle cx="1269.4" cy="536.6" r="0.7" fill="#77777d"/>
  <rect x="1274.4" y="534.4" width="2.2" height="2.2" fill="#55555b"/>
  <circle cx="1276.6" cy="541.4" r="1.1" fill="#2f86e0"/>
  <path d="M1248 539.6 H1271.2 L1274 547.2 H1244 Z" fill="#f6f6f8"/>
  <path d="M1250.4 541.2 H1268.8 L1269.8 543.8 H1249.6 Z" fill="#c2c5d0"/>
  <path d="M1262 541.6 H1268.6 L1269.2 543.2 H1262 Z" fill="#d8b7b0"/>
  <path d="M1244 547.2 H1274 L1273.6 548.2 H1244.4 Z" fill="#1d1d20"/>
</g>

<g class="lbl">
  <text x="1310" y="305.6" textLength="61" lengthAdjust="spacingAndGlyphs">Mouse</text>
  <text x="1310" y="361.8" textLength="87.5" lengthAdjust="spacingAndGlyphs">Keyboard</text>
  <text x="1315.4" y="422" textLength="96.4" lengthAdjust="spacingAndGlyphs">Hard Drive</text>
  <text x="1310.4" y="478" textLength="58.6" lengthAdjust="spacingAndGlyphs">U-disk</text>
  <text x="1310.4" y="534.6" textLength="60.6" lengthAdjust="spacingAndGlyphs">Printer</text>
</g>

<!-- USB devices cable -->
<g id="usbdev">
  <rect x="999" y="413.2" width="134" height="6.8" fill="url(#gCable)"/>
  <use href="#usbPlug" transform="translate(919.2 416.5) scale(0.99 1)"/>
  <use href="#usbPlug" transform="translate(1212.9 416.5) scale(-0.99 1)"/>
</g>
<text class="lbl" x="1008" y="447.8" textLength="114" lengthAdjust="spacingAndGlyphs">USB Devices</text>


</svg>
</body>
</html>
